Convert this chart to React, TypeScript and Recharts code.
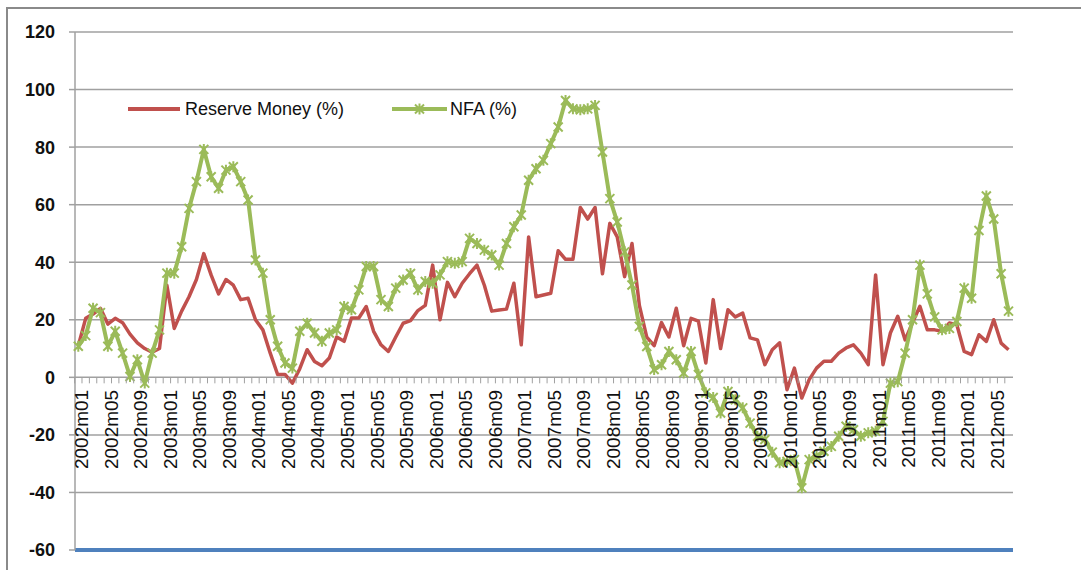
import React from 'react';
import {
  LineChart, Line, XAxis, YAxis, CartesianGrid, Legend, ReferenceLine,
} from 'recharts';

const YEARS = ['2002', '2003', '2004', '2005', '2006', '2007', '2008', '2009', '2010', '2011', '2012'];
const MONTHS = ['01', '02', '03', '04', '05', '06', '07', '08', '09', '10', '11', '12'];
const N_MONTHS = 127; // 2002m01 .. 2012m07

const categories = YEARS.flatMap((y) => MONTHS.map((m) => `${y}m${m}`)).slice(0, N_MONTHS);

const reserveMoney = [
  11, 20.5, 22, 24, 18.5, 20.5, 19, 15, 12, 10, 8.7, 10,
  32, 17, 23, 28, 34, 43, 35.5, 29, 34, 32, 27, 27.5,
  20, 16.5, 8.4, 1, 1, -2, 3, 9.6, 5.5, 4, 6.7, 14,
  12.5, 20.6, 20.6, 24.6, 16, 11.3, 9, 14, 18.8, 19.7, 23.2, 25,
  39, 20, 33, 28, 32.7, 36, 39, 32, 23, 23.4, 23.7, 32.7,
  11.3, 48.8, 28, 28.6, 29.2, 44, 41, 41, 59, 55, 59, 36,
  53.5, 48.8, 35, 46.5, 25, 14, 11, 19, 14, 24, 11, 20.5,
  19.5, 5, 27, 10, 23.5, 21, 22.3, 13.7, 13, 4.4, 9.6, 12,
  -4.3, 3.2, -7.2, -0.8, 3.2, 5.6, 5.6, 8.4, 10.2, 11.3, 8.4, 4.4,
  35.6, 4.4, 15.4, 21.2, 13, 19, 24.7, 16.5, 16.5, 16, 18.9, 18.3,
  9, 7.9, 14.8, 12.5, 20, 11.9, 9.6,
];

const nfa = [
  10.8, 14.5, 24, 22.5, 10.8, 16, 8.4, 0.3, 6.1, -2, 8.4, 16.5,
  36.2, 36.2, 45.4, 58.7, 68, 79.2, 69.7, 65.7, 72, 73.2, 68, 61.6,
  40.8, 36.2, 20, 10.8, 5, 3.2, 16, 18.8, 15.4, 12.5, 15.4, 16.5,
  24.6, 23.5, 30.4, 38.5, 38.5, 27, 24.6, 31, 33.8, 36.1, 30.4, 33.3,
  32.7, 35.6, 40.2, 39.6, 40.2, 48.3, 46.5, 44.2, 42.5, 39, 46.5, 52.3,
  56.4, 68.5, 72.5, 75.4, 81.2, 87, 96.2, 93.3, 93, 93.3, 94.5, 78.3,
  62.1, 54, 43.6, 32.1, 17.7, 10.7, 2.7, 4.4, 9, 6.1, 1.5, 9,
  1, -5.4, -7, -12.4, -4.9, -7.8, -10.6, -15.9, -20.5, -21.6, -26, -29.7,
  -29.2, -28.6, -38.4, -28.6, -27.4, -25.7, -24, -20.5, -17, -18.2, -20.5, -19.3,
  -18.7, -15.3, -2, -1.5, 8.4, 20, 39, 29, 21, 16.5, 17, 19.4,
  31, 27.5, 51, 63, 55, 36, 23,
];

const yTicks = [-60, -40, -20, 0, 20, 40, 60, 80, 100, 120];
const Y_MIN = -60;
const Y_MAX = 120;
const FLOOR_VALUE = -60;
const LABEL_EVERY = 4;

const data = categories.map((c, i) => ({ month: c, rm: reserveMoney[i], nfa: nfa[i] }));

const W = 1081;
const H = 570;
const X_AXIS_H = 1;
const MARGIN = { top: 32, right: 68, left: 0, bottom: 20 - X_AXIS_H };
const Y_AXIS_W = 75;
const PLOT_TOP = MARGIN.top;
const PLOT_BOTTOM = H - MARGIN.bottom - X_AXIS_H;
const ZERO_Y = PLOT_TOP + (Y_MAX / (Y_MAX - Y_MIN)) * (PLOT_BOTTOM - PLOT_TOP);
const HALF_STEP = 3.69;

const RED = '#C0504D';
const GREEN = '#9BBB59';
const FONT = '"Liberation Sans", Arial, sans-serif';

const starPath = (cx: number, cy: number, r: number) =>
  `M${cx - r},${cy - r}L${cx + r},${cy + r}M${cx - r},${cy + r}L${cx + r},${cy - r}M${cx},${cy - r - 1}L${cx},${cy + r + 1}`;

const StarDot = (props: any) => {
  const { cx, cy, index } = props;
  if (cx == null || cy == null) return null;
  return <path key={`s${index}`} d={starPath(cx, cy, 4.5)} stroke={GREEN} strokeWidth={2} fill="none" />;
};

const MonthTick = (props: any) => {
  const { x, payload, index } = props;
  const i = typeof index === 'number' ? index : payload?.index ?? 0;
  return (
    <g>
      <line x1={x - HALF_STEP} x2={x - HALF_STEP} y1={ZERO_Y} y2={ZERO_Y + 6} stroke="#a0a0a0" strokeWidth={1} />
      {i % LABEL_EVERY === 0 && (
        <text
          transform={`translate(${x + 3.4},${ZERO_Y + 12.5}) rotate(-90)`}
          textAnchor="end"
          dominantBaseline="central"
          fontSize={19}
          fontFamily={FONT}
          fill="#111"
        >
          {payload.value}
        </text>
      )}
    </g>
  );
};

const LegendBox = () => (
  <div style={{ position: 'relative', width: W, height: 30, fontFamily: FONT, fontSize: 18, color: '#111' }}>
    <svg style={{ position: 'absolute', left: 128, top: 6 }} width={54} height={12}>
      <line x1={0} x2={52} y1={6} y2={6} stroke={RED} strokeWidth={4} />
    </svg>
    <span style={{ position: 'absolute', left: 185, top: 0, lineHeight: '24px', whiteSpace: 'nowrap' }}>Reserve Money (%)</span>
    <svg style={{ position: 'absolute', left: 392, top: 0 }} width={56} height={24}>
      <line x1={0} x2={55} y1={12} y2={12} stroke={GREEN} strokeWidth={4} />
      <path d={starPath(27.5, 12, 4.5)} stroke={GREEN} strokeWidth={2} fill="none" />
    </svg>
    <span style={{ position: 'absolute', left: 450, top: 0, lineHeight: '24px', whiteSpace: 'nowrap' }}>NFA (%)</span>
  </div>
);

const MoneyChart = () => (
  <div style={{ position: 'fixed', left: 0, top: 0, width: W, height: H, overflow: 'hidden', background: '#fff' }}>
    <div style={{
      position: 'absolute', left: 6, top: 7, width: 1200, height: 700,
      border: '2px solid #8a8a8a', boxSizing: 'border-box',
    }}
    />
    <LineChart width={W} height={H} data={data} margin={MARGIN} style={{ position: 'absolute', left: 0, top: 0 }}>
      <CartesianGrid vertical={false} stroke="#a0a0a0" strokeWidth={1.5} />
      <XAxis
        dataKey="month"
        height={X_AXIS_H}
        interval={0}
        axisLine={false}
        tickLine={false}
        tickSize={0}
        tickMargin={0}
        padding={{ left: 3.3, right: 4.5 }}
        tick={<MonthTick />}
      />
      <YAxis
        width={Y_AXIS_W}
        domain={[Y_MIN, Y_MAX]}
        ticks={yTicks}
        interval={0}
        axisLine={{ stroke: '#a0a0a0', strokeWidth: 1.5 }}
        tickLine={{ stroke: '#a0a0a0', strokeWidth: 1.5 }}
        tickSize={6}
        tickMargin={14}
        tick={{ fontSize: 18, fontFamily: FONT, fill: '#111', fontWeight: 'bold' }}
      />
      <YAxis
        yAxisId="right"
        orientation="right"
        width={0}
        domain={[Y_MIN, Y_MAX]}
        ticks={yTicks}
        tick={false}
        tickLine={false}
        axisLine={{ stroke: '#a0a0a0', strokeWidth: 1.5 }}
      />
      <ReferenceLine y={FLOOR_VALUE} stroke="#4F81BD" strokeWidth={4} />
      <Legend
        layout="horizontal"
        verticalAlign="middle"
        align="center"
        wrapperStyle={{ left: 0, top: 97, width: W }}
        content={<LegendBox />}
      />
      <Line
        type="linear"
        dataKey="rm"
        name="Reserve Money (%)"
        stroke={RED}
        strokeWidth={3.5}
        strokeLinejoin="round"
        dot={false}
        activeDot={false}
        isAnimationActive={false}
      />
      <Line
        type="linear"
        dataKey="nfa"
        name="NFA (%)"
        stroke={GREEN}
        strokeWidth={4}
        strokeLinejoin="round"
        dot={<StarDot />}
        activeDot={false}
        isAnimationActive={false}
      />
    </LineChart>
  </div>
);

export default function App() {
  return <MoneyChart />;
}
